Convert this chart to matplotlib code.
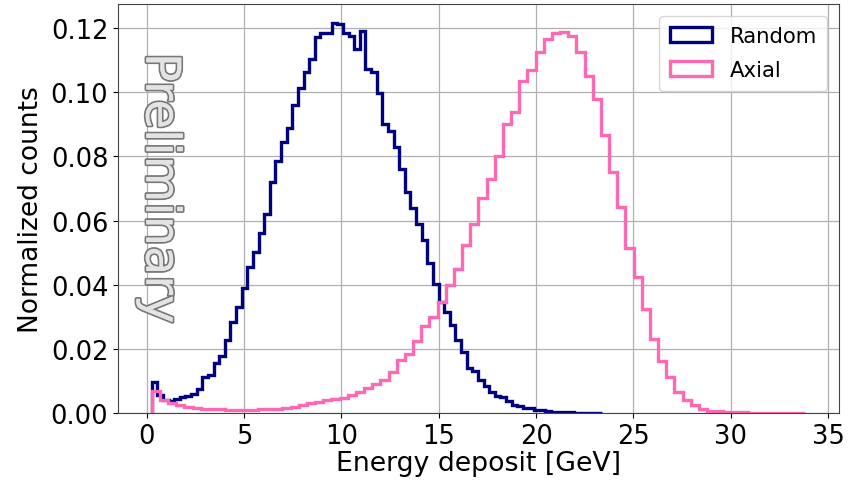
import numpy as np
import matplotlib
matplotlib.use("Agg")
import matplotlib.pyplot as plt
import matplotlib.patheffects as pe

# ---- data ----
n_bins = 80
random_range = (0.25, 23.37)
axial_range = (0.25, 33.82)

random_counts = [
    0.0097, 0.0055, 0.0042, 0.0036, 0.0045, 0.0050, 0.0054, 0.0060, 0.0076, 0.0112,
    0.0117, 0.0156, 0.0179, 0.0228, 0.0283, 0.0329, 0.0389, 0.0456, 0.0501, 0.0562,
    0.0620, 0.0721, 0.0785, 0.0846, 0.0889, 0.0961, 0.1013, 0.1062, 0.1103, 0.1171,
    0.1184, 0.1186, 0.1215, 0.1214, 0.1184, 0.1174, 0.1135, 0.1192, 0.1072, 0.1064,
    0.0998, 0.0901, 0.0880, 0.0828, 0.0761, 0.0690, 0.0638, 0.0590, 0.0540, 0.0468,
    0.0403, 0.0346, 0.0315, 0.0273, 0.0228, 0.0190, 0.0140, 0.0130, 0.0102, 0.0084,
    0.0065, 0.0052, 0.0049, 0.0037, 0.0025, 0.0023, 0.0016, 0.0015, 0.0009, 0.0008,
    0.0005, 0.0004, 0.0004, 0.0002, 0.0002, 0.0001, 0.0001, 0.0001, 0.0001, 0.0001,
]

axial_counts = [
    0.0070, 0.0039, 0.0030, 0.0024, 0.0020, 0.0016, 0.0013, 0.0012, 0.0011, 0.0010,
    0.0010, 0.0010, 0.0010, 0.0011, 0.0012, 0.0014, 0.0017, 0.0020, 0.0025, 0.0030,
    0.0034, 0.0039, 0.0043, 0.0047, 0.0055, 0.0067, 0.0078, 0.0091, 0.0104, 0.0128,
    0.0166, 0.0185, 0.0223, 0.0270, 0.0299, 0.0347, 0.0398, 0.0450, 0.0523, 0.0590,
    0.0670, 0.0730, 0.0802, 0.0900, 0.0937, 0.1034, 0.1070, 0.1124, 0.1166, 0.1184,
    0.1188, 0.1174, 0.1126, 0.1049, 0.0979, 0.0867, 0.0752, 0.0643, 0.0513, 0.0424,
    0.0324, 0.0231, 0.0161, 0.0112, 0.0067, 0.0042, 0.0024, 0.0013, 0.0007, 0.0005,
    0.0003, 0.0002, 0.0002, 0.0001, 0.0001, 0.0001, 0.0001, 0.0001, 0.0001, 0.0001,
]

labels = ["Random", "Axial"]
colors = ["#000080", "#FF69B4"]
x_ticks = [0, 5, 10, 15, 20, 25, 30, 35]
y_ticks = [0.00, 0.02, 0.04, 0.06, 0.08, 0.10, 0.12]

# ---- figure ----
fig = plt.figure(figsize=(8.59, 4.81), dpi=100)
ax = fig.add_axes([0.1374, 0.1393, 0.8393, 0.8503])

for rng, counts, lab, col in zip([random_range, axial_range],
                                 [random_counts, axial_counts], labels, colors):
    edges = np.linspace(rng[0], rng[1], n_bins + 1)
    centers = 0.5 * (edges[:-1] + edges[1:])
    ax.hist(centers, bins=edges, weights=counts, histtype="step",
            color=col, linewidth=2.4, label=lab)

ax.set_xlim(-1.48, 35.56)
ax.set_ylim(0, 0.1275)
ax.set_xticks(x_ticks)
ax.set_yticks(y_ticks)
ax.set_yticklabels([f"{v:.2f}" for v in y_ticks])
ax.tick_params(labelsize=18.5)
ax.grid(True, color="#b0b0b0", linewidth=0.9)
ax.set_axisbelow(True)
for s in ax.spines.values():
    s.set_color("#444444")

ax.set_xlabel("Energy deposit [GeV]", fontsize=19.3, labelpad=1)
ax.set_ylabel("Normalized counts", fontsize=19, labelpad=5)

ax.legend(loc="upper right", fontsize=15.3, handlelength=2.0,
          labelspacing=0.65, borderaxespad=0.55, borderpad=0.5,
          framealpha=0.8)

t = ax.text(0.058, 0.55, "Preliminary", transform=ax.transAxes,
            rotation=-90, ha="center", va="center", fontsize=34.5,
            color="#e3e3e3")
t.set_path_effects([pe.withStroke(linewidth=2.6, foreground="#777777"),
                    pe.Normal()])

fig.savefig("out.png", dpi=100)
